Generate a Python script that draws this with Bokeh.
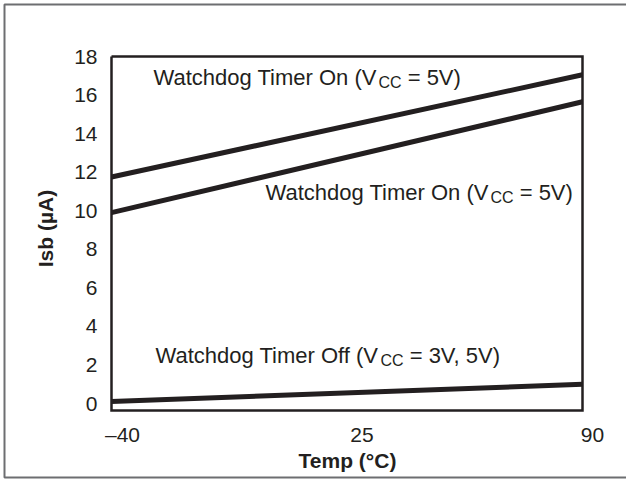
import math
from bokeh.plotting import figure
from bokeh.models import Range1d
from bokeh.core.properties import value
from bokeh.embed import file_html
from bokeh.resources import INLINE

# ---------------- data ----------------
temps = [-40, 90]                       # Temp (°C)
wd_on_upper = [11.75, 17.05]            # Isb (µA), Watchdog Timer On (upper)
wd_on_lower = [9.9, 15.65]              # Isb (µA), Watchdog Timer On (lower)
wd_off = [0.1, 1.0]                     # Isb (µA), Watchdog Timer Off
x_ticks = [-40, 25, 90]
x_tick_labels = ["\u201340", "25", "90"]
y_ticks = [0, 2, 4, 6, 8, 10, 12, 14, 16, 18]
y_tick_labels = [str(v) for v in y_ticks]
x_title = "Temp (°C)"
y_title = "Isb (µA)"
labels = [
    ("Watchdog Timer On (V", "CC", "\u00a0= 5V)"),
    ("Watchdog Timer On (V", "CC", "\u00a0= 5V)"),
    ("Watchdog Timer Off (V", "CC", "\u00a0= 3V, 5V)"),
]

# ---------------- layout (pixels) ----------------
W, H = 626, 479
FRAME_L, FRAME_R = 111, 582      # canvas px of x=-40 and x=90
Y0_PX, Y18_PX = 403, 56          # canvas px of y=0 and y=18
XMIN, XMAX = -40, 90
px_x = (FRAME_R - FRAME_L) / (XMAX - XMIN)
px_y = (Y0_PX - Y18_PX) / 18.0

def dx(cx):
    return XMIN + (cx - FRAME_L) / px_x

def dy(cy):
    return (Y0_PX - cy) / px_y

YMIN, YMAX = dy(410), 18.0

INK = "#231f20"
FONT = "Liberation Sans"
FS = 21
LFS = 22
SUB_FS = 16

p = figure(width=W, height=H, output_backend="svg", toolbar_location=None,
           x_range=Range1d(dx(0), dx(W)), y_range=Range1d(dy(H), dy(0)),
           x_axis_location=None, y_axis_location=None,
           min_border=0, min_border_left=0, min_border_right=0,
           min_border_top=0, min_border_bottom=0)
p.grid.visible = False
p.outline_line_color = None
p.background_fill_color = "white"
p.border_fill_color = "white"

# outer border (left/top/bottom; right side lies outside the picture)
ob_l, ob_t, ob_b, ob_r = 4, 4, 477, W + 10
p.line([dx(ob_r), dx(ob_l), dx(ob_l), dx(ob_r)],
       [dy(ob_t), dy(ob_t), dy(ob_b), dy(ob_b)],
       line_color="#6d6e71", line_width=2)

# inner frame
p.line([XMIN, XMAX, XMAX, XMIN, XMIN], [YMAX, YMAX, YMIN, YMIN, YMAX],
       line_color=INK, line_width=2.5, line_join="miter")

# series
for ys in (wd_on_upper, wd_on_lower, wd_off):
    p.line(temps, ys, line_color=INK, line_width=5)

# y tick labels
p.text(x=[XMIN] * len(y_ticks), y=y_ticks, text=y_tick_labels,
       x_offset=-14, text_align="right", text_baseline="middle",
       text_font=value(FONT), text_font_size=f"{FS}px", text_color=INK)

# x tick labels
x_off = [11, 15, 10]
for t, lab, off in zip(x_ticks, x_tick_labels, x_off):
    p.text(x=[t], y=[dy(434)], text=[lab], x_offset=off,
           text_align="center", text_baseline="middle",
           text_font=value(FONT), text_font_size=f"{FS}px", text_color=INK)

# axis titles
p.text(x=[dx(347)], y=[dy(460)], text=[x_title], text_align="center",
       text_baseline="middle", text_font=value(FONT),
       text_font_style="bold", text_font_size=f"{FS}px", text_color=INK)
p.text(x=[dx(45)], y=[dy(228)], text=[y_title], angle=math.pi / 2,
       text_align="center", text_baseline="middle", text_font=value(FONT),
       text_font_style="bold", text_font_size=f"{FS}px", text_color=INK)

# Arial advance widths (per 1000 em) for label layout
AW = {" ": 278, "\u00a0": 278, "(": 333, ")": 333, "=": 584, ",": 278,
      "3": 556, "5": 556, "V": 667, "W": 944, "a": 556, "t": 278, "c": 500,
      "h": 556, "d": 556, "o": 556, "g": 556, "T": 611, "i": 222, "m": 833,
      "e": 556, "r": 333, "O": 778, "n": 556, "f": 278, "C": 722}

def tw(s, size):
    return sum(AW.get(ch, 556) for ch in s) / 1000.0 * size

label_pos = [(153, 77), (265, 192), (155, 355)]   # canvas px (left, baseline)
for (a, b, c), (lx, ly) in zip(labels, label_pos):
    wa = tw(a, LFS)
    wb = tw(b, SUB_FS)
    for txt, off, fs, yo in ((a, 0, LFS, 0), (b, wa, SUB_FS, 5), (c, wa + wb, LFS, 0)):
        p.text(x=[dx(lx)], y=[dy(ly)], text=[txt], x_offset=off, y_offset=yo,
               text_align="left", text_baseline="alphabetic",
               text_font=value(FONT), text_font_size=f"{fs}px", text_color=INK)

open("out.html", "w").write(file_html(p, INLINE))
